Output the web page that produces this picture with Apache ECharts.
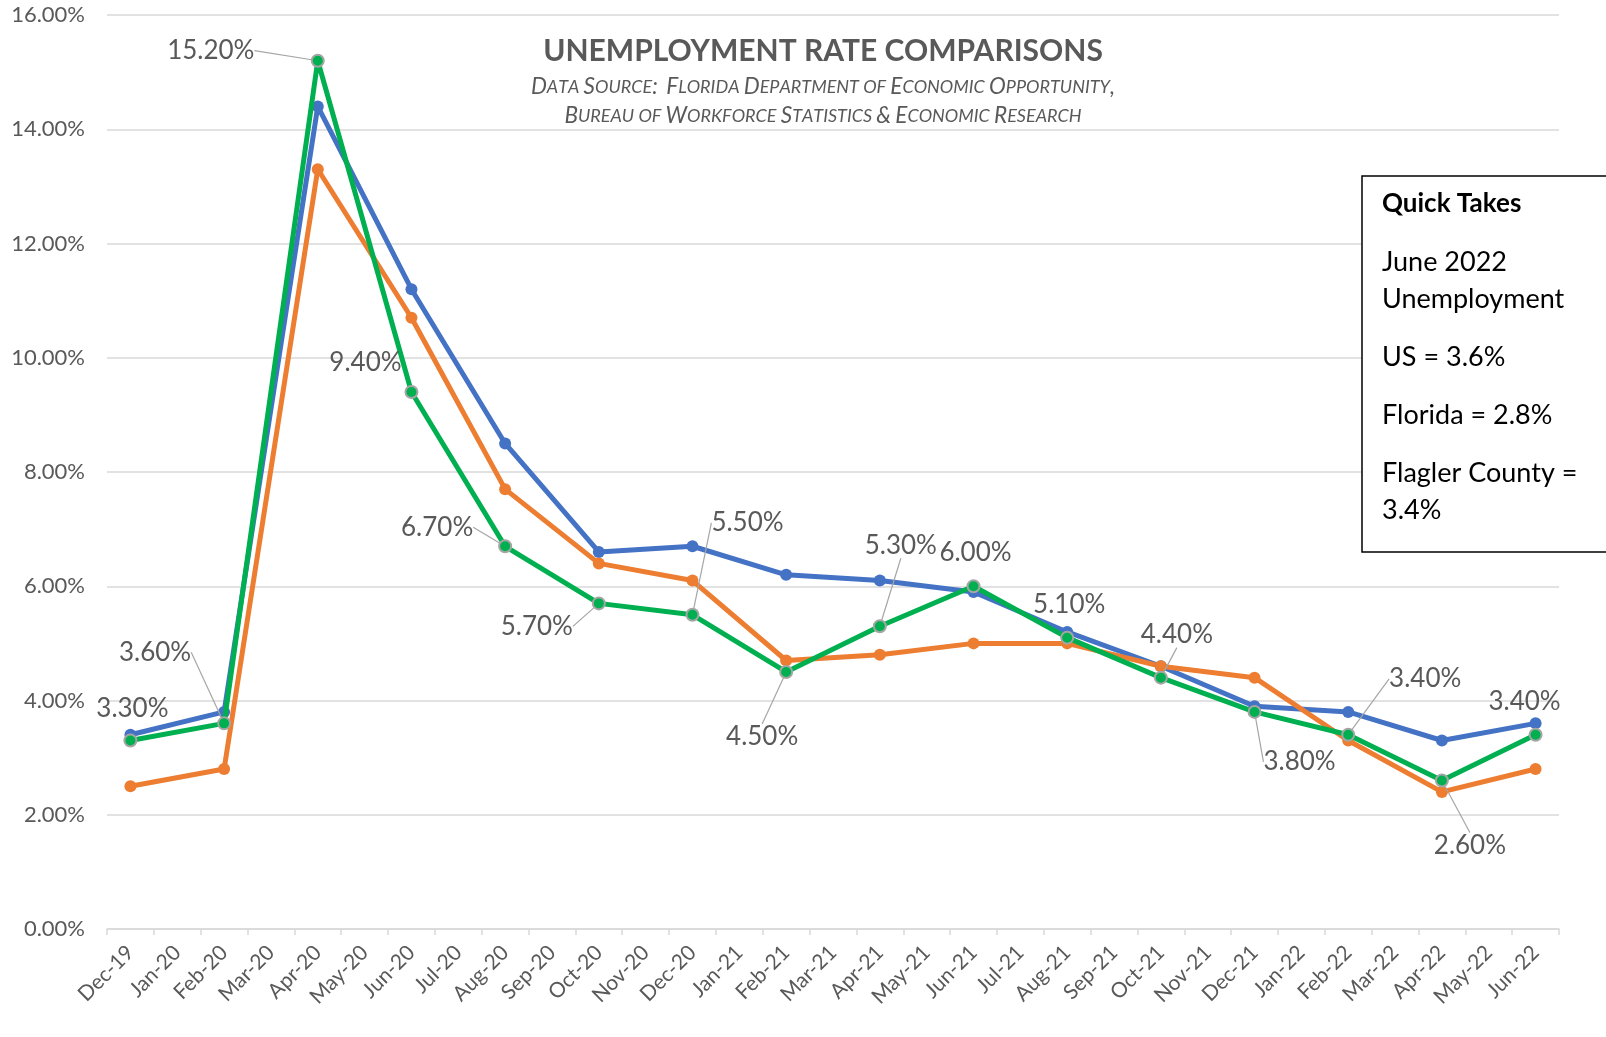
<!DOCTYPE html>
<html>
<head>
<meta charset="utf-8">
<script src="https://cdn.jsdelivr.net/npm/echarts@6/dist/echarts.min.js"></script>
<style>
html,body{margin:0;padding:0;background:#fff;}
#chart{width:1606px;height:1037px;}
</style>
</head>
<body>
<div id="chart"></div>
<script>
// ---- Data ----
const months = ['Dec-19','Jan-20','Feb-20','Mar-20','Apr-20','May-20','Jun-20','Jul-20','Aug-20','Sep-20','Oct-20','Nov-20','Dec-20','Jan-21','Feb-21','Mar-21','Apr-21','May-21','Jun-21','Jul-21','Aug-21','Sep-21','Oct-21','Nov-21','Dec-21','Jan-22','Feb-22','Mar-22','Apr-22','May-22','Jun-22'];
const sampleMonths = ['Dec-19','Feb-20','Apr-20','Jun-20','Aug-20','Oct-20','Dec-20','Feb-21','Apr-21','Jun-21','Aug-21','Oct-21','Dec-21','Feb-22','Apr-22','Jun-22'];
const usRate      = [3.4, 3.8, 14.4, 11.2, 8.5, 6.6, 6.7, 6.2, 6.1, 5.9, 5.2, 4.6, 3.9, 3.8, 3.3, 3.6];
const floridaRate = [2.5, 2.8, 13.3, 10.7, 7.7, 6.4, 6.1, 4.7, 4.8, 5.0, 5.0, 4.6, 4.4, 3.3, 2.4, 2.8];
const flaglerRate = [3.3, 3.6, 15.2, 9.4, 6.7, 5.7, 5.5, 4.5, 5.3, 6.0, 5.1, 4.4, 3.8, 3.4, 2.6, 3.4];
const yTicks = [0, 2, 4, 6, 8, 10, 12, 14, 16];
const titleText = 'UNEMPLOYMENT RATE COMPARISONS';
const sourceLine1 = 'Data Source:  Florida Department of Economic Opportunity,';
const sourceLine2 = 'Bureau of Workforce Statistics & Economic Research';
const quickTitle = 'Quick Takes';
const quickTakes = ['June 2022', 'Unemployment', 'US = 3.6%', 'Florida = 2.8%', 'Flagler County =', '3.4%'];

// ---- Layout/style (not data) ----
// label centre offsets from the point (px) for Flagler labels
const labelOffsets = [[2,-32],[-69,-71],[-107,-10],[-46,-29],[-68,-19],[-62,23],[55,-92],[-24,65],[21,-81],[2,-34],[2,-33],[16,-43],[45,50],[77,-56],[28,65],[-11,-33]];
const showLeader   = [false,true,true,false,true,true,true,true,true,false,false,true,true,true,true,false];
const quickY = [262, 299, 357, 415, 473, 510];

function toFull(vals){
  const out = months.map(() => null);
  sampleMonths.forEach((m,i) => { out[months.indexOf(m)] = vals[i]; });
  return out;
}
const idxMap = {};
sampleMonths.forEach((m,i) => { idxMap[months.indexOf(m)] = i; });

const FONT = 'Lato';
const GREY = '#595959';

function smallCaps(str){
  let out = '';
  for (const ch of str){
    if (ch >= 'a' && ch <= 'z') out += '{s|' + ch.toUpperCase() + '}';
    else if (ch === ' ') out += '{s| }';
    else out += '{b|' + ch + '}';
  }
  return out;
}
const capsRich = {
  b: {fontFamily: FONT, fontStyle: 'italic', fontSize: 22.5, fill: GREY, color: GREY},
  s: {fontFamily: FONT, fontStyle: 'italic', fontSize: 18, fill: GREY, color: GREY}
};

const chart = echarts.init(document.getElementById('chart'));

function lineSeries(name, vals, color, extra){
  return Object.assign({
    name: name,
    type: 'line',
    data: toFull(vals),
    connectNulls: true,
    symbol: 'circle',
    symbolSize: 12,
    lineStyle: {color: color, width: 5},
    itemStyle: {color: color},
    z: 2
  }, extra || {});
}

const flaglerData = toFull(flaglerRate).map((v, i) => {
  if (v === null) return null;
  const k = idxMap[i];
  return {value: v, labelLine: {show: showLeader[k]}};
});

chart.setOption({
  animation: false,
  backgroundColor: '#fff',
  grid: {left: 107, right: 47, top: 15, bottom: 108, containLabel: false},
  xAxis: {
    type: 'category',
    data: months,
    boundaryGap: true,
    axisLine: {lineStyle: {color: '#D9D9D9', width: 1.5}},
    axisTick: {show: true, length: 6, lineStyle: {color: '#D9D9D9', width: 1.5}},
    axisLabel: {interval: 0, rotate: 45, color: GREY, fontFamily: FONT, fontSize: 21, margin: 20},
    splitLine: {show: false}
  },
  yAxis: {
    type: 'value',
    min: yTicks[0],
    max: yTicks[yTicks.length-1],
    interval: 2,
    axisLine: {show: false},
    axisTick: {show: false},
    axisLabel: {color: GREY, fontFamily: FONT, fontSize: 22, margin: 22, formatter: v => v.toFixed(2) + '%'},
    splitLine: {lineStyle: {color: '#D9D9D9', width: 1.5}}
  },
  series: [
    lineSeries('US', usRate, '#4472C4'),
    lineSeries('Florida', floridaRate, '#ED7D31'),
    lineSeries('Flagler County', flaglerRate, '#00B050', {
      data: flaglerData,
      itemStyle: {color: '#00B050', borderColor: '#A5A5A5', borderWidth: 2},
      z: 3,
      label: {
        show: true,
        position: 'inside',
        color: GREY,
        fontFamily: FONT,
        fontSize: 26,
        formatter: p => Number(p.value).toFixed(2) + '%'
      },
      labelLine: {show: true, lineStyle: {color: '#A6A6A6', width: 1.2}},
      labelLayout: function(params){
        const k = idxMap[params.dataIndex];
        if (k === undefined) return {};
        return {dx: labelOffsets[k][0], dy: labelOffsets[k][1]};
      }
    })
  ],
  graphic: [
    {type: 'text', x: 823, y: 51, z: 10,
     style: {text: titleText, fill: GREY, font: 'bold 30px ' + FONT, textAlign: 'center', textVerticalAlign: 'middle'}},
    {type: 'text', x: 823, y: 87, z: 10,
     style: {text: smallCaps(sourceLine1), textAlign: 'center', textVerticalAlign: 'middle', rich: capsRich}},
    {type: 'text', x: 823, y: 116, z: 10,
     style: {text: smallCaps(sourceLine2), textAlign: 'center', textVerticalAlign: 'middle', rich: capsRich}},
    {type: 'rect', z: 10, shape: {x: 1362, y: 176, width: 300, height: 376},
     style: {fill: '#fff', stroke: '#000', lineWidth: 1.5}},
    {type: 'text', x: 1382, y: 204, z: 11,
     style: {text: quickTitle, fill: '#000', font: 'bold 26px ' + FONT, textVerticalAlign: 'middle'}}
  ].concat(quickTakes.map((t, i) => ({
    type: 'text', x: 1382, y: quickY[i], z: 11,
    style: {text: t, fill: '#000', font: '27px ' + FONT, textVerticalAlign: 'middle'}
  })))
});
</script>
</body>
</html>
